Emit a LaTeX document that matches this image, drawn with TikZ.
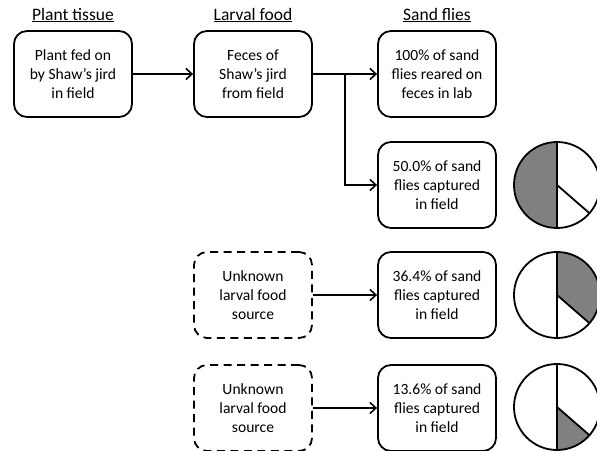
\documentclass[tikz,border=0pt]{standalone}
\usepackage{fontspec}
\setmainfont{Carlito}
\usetikzlibrary{arrows.meta}
\begin{document}
\begin{tikzpicture}[x=1pt,y=1pt,
  box/.style={draw,line width=1.8pt,rounded corners=13pt,minimum width=118pt,minimum height=86pt,inner sep=0pt,align=center,font=\fontsize{15.6}{18.8}\selectfont},
  dbox/.style={box,dash pattern=on 8pt off 5.5pt},
  head/.style={font=\fontsize{17.5}{20}\selectfont},
  conn/.style={line width=1.6pt,-{Straight Barb[length=6pt,width=11pt,line width=1.6pt]}},
  pie/.style={line width=1.8pt},
  pief/.style={fill=black!50}]
\useasboundingbox (0,0) rectangle (597,450);
\clip (0,0) rectangle (597,450);
\node[head] (h1) at (73,435) {\underline{Plant tissue}};
\node[head] (h2) at (253,435) {\underline{Larval food}};
\node[head] (h3) at (437,435) {\underline{Sand flies}};
\node[box] (b1) at (73,376) {Plant fed on\\by Shaw’s jird\\in field};
\node[box] (b2) at (253,376) {Feces of\\Shaw’s jird\\from field};
\node[box] (b3) at (437,376) {100\% of sand\\flies reared on\\feces in lab};
\node[box] (b4) at (437,265) {50.0\% of sand\\flies captured\\in field};
\node[dbox] (b5) at (253,155) {Unknown\\larval food\\source};
\node[box] (b6) at (437,155) {36.4\% of sand\\flies captured\\in field};
\node[dbox] (b7) at (253,42) {Unknown\\larval food\\source};
\node[box] (b8) at (437,42) {13.6\% of sand\\flies captured\\in field};
\coordinate (br) at (345,376);
\draw[conn] (b1) -- (b2);
\draw[conn] (b2) -- (b3);
\draw[conn] (br) |- (b4.west);
\draw[conn] (b5) -- (b6);
\draw[conn] (b7) -- (b8);
% pies
\coordinate (p1) at (557,265);
\coordinate (p2) at (557,155);
\coordinate (p3) at (557,43);
\fill[pief] (p1) -- ++(90:43) arc (90:270:43) -- cycle;
\fill[pief] (p2) -- ++(-41:43) arc (-41:90:43) -- cycle;
\fill[pief] (p3) -- ++(-90:43) arc (-90:-41:43) -- cycle;
\foreach \p in {p1,p2,p3}{
  \draw[pie] (\p) circle (43);
  \draw[pie] (\p) ++(0,43) -- ++(0,-86);
  \draw[pie] (\p) -- ++(-41:43);
}
\end{tikzpicture}
\end{document}
